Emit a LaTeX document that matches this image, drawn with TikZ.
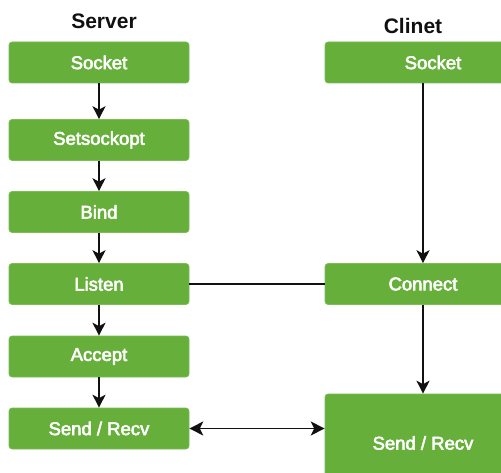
\documentclass[tikz,border=0pt]{standalone}
\usepackage{fontspec}
\setmainfont{Liberation Sans}
\newfontfamily\boxfont{Liberation Sans}[RawFeature={embolden=3}]
\usepackage{xcolor}
\usetikzlibrary{arrows.meta,positioning,calc}
\definecolor{Leaf}{HTML}{66AF3A}
\definecolor{LeafEdge}{HTML}{7CBD55}
\definecolor{Ink}{HTML}{111111}
\tikzset{stepbox/.style={rectangle,rounded corners=3pt,draw=LeafEdge,line width=0.6pt,fill=Leaf,text=white,font=\fontsize{18.5}{21}\boxfont,minimum width=180pt,minimum height=41pt,inner sep=0pt},widebox/.style={stepbox,minimum width=196pt},heading/.style={text=Ink,font=\fontsize{21}{24}\selectfont\bfseries},flow/.style={draw=Ink,line width=1.4pt,-{Stealth[length=13pt,width=13pt,inset=3.5pt]}},link/.style={draw=Ink,line width=1.4pt},duplex/.style={draw=Ink,line width=1.4pt,{Stealth[length=14pt,width=14pt,inset=3.5pt]}-{Stealth[length=14pt,width=14pt,inset=3.5pt]}}}
\begin{document}
\begin{tikzpicture}[x=1pt,y=-1pt]
\clip (0,0) rectangle (501,473);
\fill[white] (0,0) rectangle (501,473);
\node[heading] (srvtitle) at (104,21) {Server};\node[heading] (clititle) at (413,26) {Clinet};
\node[stepbox] (sSocket) at (99,62.5) {Socket};\node[stepbox] (sOpt) at (99,140) {Setsockopt};\node[stepbox] (sBind) at (99,212) {Bind};
\node[stepbox] (sListen) at (99,284) {Listen};\node[stepbox] (sAccept) at (99,356.5) {Accept};\node[stepbox] (sSend) at (99,428.5) {Send / Recv};
\node[widebox] (cSocket) at (423,62.5) {\hspace{20pt}Socket};\node[widebox] (cConnect) at (423,284) {Connect};\node[widebox,minimum height=98pt] (cSend) at (423,443) {Send / Recv};
\draw[flow] (sSocket)--(sOpt);\draw[flow] (sOpt)--(sBind);\draw[flow] (sBind)--(sListen);\draw[flow] (sListen)--(sAccept);\draw[flow] (sAccept)--(sSend);
\draw[flow] (cSocket.south -| cConnect.north)--(cConnect);\draw[flow] (cConnect)--(cSend);
\draw[link] (sListen.east)--(cConnect.west);
\draw[duplex] (sSend.east)--(sSend.east -| cSend.west);
\end{tikzpicture}
\end{document}
